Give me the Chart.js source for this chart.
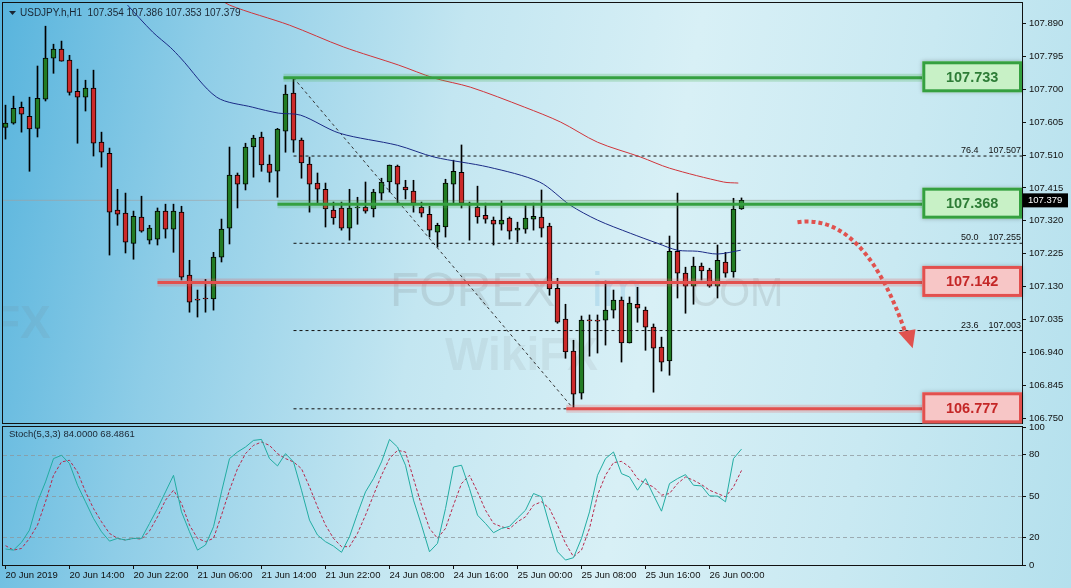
<!DOCTYPE html>
<html>
<head>
<meta charset="utf-8">
<script src="https://cdn.jsdelivr.net/npm/chart.js@4.4.0/dist/chart.umd.min.js"></script>
<style>
  html, body { margin: 0; padding: 0; }
  #wrap {
    position: relative; width: 1071px; height: 588px; overflow: hidden;
    background: linear-gradient(100deg, #58b4dd 0%, #8ecde7 18%, #c3e6f1 40%, #d8f0f6 60%, #c9e9f2 80%, #b4e0ed 100%);
  }
  canvas { position: absolute; left: 0; }
  #main { top: 0; }
  #stoch { top: 415px; }
</style>
</head>
<body>
<div id="wrap">
  <canvas id="main" width="1071" height="425"></canvas>
  <canvas id="stoch" width="1071" height="173"></canvas>
</div>
<script>
const FONT = "'Liberation Sans', Arial, sans-serif";
Chart.defaults.font.family = FONT;
Chart.defaults.font.size = 9.5;
Chart.defaults.color = '#111';

// USDJPY H1 candles, one per hour from 20 Jun 06:00
const opens = [
  107.590,107.602,107.648,107.622,107.587,107.671,107.790,107.816,107.784,107.694,
  107.677,107.703,107.547,107.515,107.351,107.342,107.255,107.331,107.264,107.267,
  107.348,107.296,107.345,107.163,107.094,107.097,107.094,107.215,107.299,107.452,
  107.426,107.533,107.562,107.484,107.463,107.579,107.689,107.553,107.484,107.429,
  107.411,107.351,107.357,107.299,107.357,107.359,107.354,107.400,107.432,107.478,
  107.417,107.406,107.359,107.339,107.287,107.302,107.426,107.460,107.368,107.359,
  107.336,107.322,107.310,107.328,107.293,107.296,107.325,107.331,107.305,107.125,
  107.036,106.944,106.822,107.033,107.033,107.033,107.062,107.091,106.967,107.079,
  107.062,107.013,106.955,106.915,107.232,107.169,107.131,107.189,107.178,107.131,
  107.201,107.172,107.354];
const highs = [
  107.654,107.680,107.663,107.677,107.767,107.882,107.830,107.839,107.798,107.758,
  107.726,107.755,107.576,107.530,107.411,107.400,107.348,107.391,107.307,107.357,
  107.368,107.368,107.362,107.206,107.120,107.151,107.229,107.325,107.533,107.458,
  107.544,107.567,107.576,107.510,107.587,107.712,107.733,107.559,107.504,107.458,
  107.429,107.374,107.374,107.411,107.388,107.432,107.411,107.443,107.481,107.481,
  107.437,107.437,107.374,107.362,107.313,107.440,107.495,107.539,107.374,107.420,
  107.371,107.331,107.377,107.331,107.316,107.365,107.371,107.409,107.313,107.154,
  107.079,106.975,107.045,107.048,107.048,107.146,107.120,107.100,107.100,107.128,
  107.071,107.022,106.984,107.276,107.400,107.186,107.215,107.198,107.183,107.250,
  107.229,107.385,107.386];
const lows = [
  107.556,107.599,107.576,107.463,107.562,107.666,107.746,107.781,107.683,107.544,
  107.637,107.507,107.475,107.221,107.307,107.227,107.209,107.287,107.253,107.250,
  107.270,107.229,107.149,107.056,107.042,107.056,107.062,107.201,107.253,107.357,
  107.409,107.446,107.463,107.432,107.388,107.518,107.518,107.443,107.345,107.371,
  107.302,107.310,107.293,107.264,107.310,107.342,107.331,107.380,107.403,107.371,
  107.383,107.345,107.331,107.273,107.244,107.273,107.371,107.357,107.264,107.313,
  107.313,107.250,107.293,107.267,107.258,107.284,107.293,107.273,107.105,107.024,
  106.923,106.777,106.805,106.929,106.938,106.961,107.039,106.912,106.967,107.027,
  106.946,106.825,106.886,106.874,107.097,107.053,107.079,107.149,107.128,107.097,
  107.157,107.157,107.353];
const closes = [
  107.602,107.645,107.628,107.585,107.674,107.790,107.816,107.781,107.691,107.677,
  107.703,107.544,107.518,107.345,107.339,107.258,107.333,107.290,107.299,107.348,
  107.296,107.348,107.157,107.085,107.091,107.094,107.215,107.296,107.452,107.426,
  107.533,107.559,107.481,107.460,107.585,107.686,107.553,107.487,107.426,107.411,
  107.354,107.328,107.299,107.357,107.359,107.348,107.403,107.432,107.481,107.426,
  107.409,107.371,107.342,107.293,107.307,107.429,107.463,107.371,107.365,107.331,
  107.325,107.310,107.322,107.290,107.299,107.328,107.333,107.299,107.123,107.027,
  106.941,106.819,107.033,107.031,107.030,107.062,107.091,106.967,107.082,107.068,
  107.013,106.952,106.912,107.232,107.169,107.131,107.189,107.175,107.131,107.206,
  107.169,107.354,107.379];

// Stoch(5,3,3)
const stochK = [
  11.6,10.8,16.4,25.3,45.8,60.2,77.1,79.5,73.5,57.8,
  45.8,33.7,24.1,17.3,19.3,18.1,19.3,19.3,30.1,41.0,
  53.0,65.0,38.5,24.1,10.8,14.5,27.7,53.0,77.1,81.9,
  85.5,90.3,91.0,77.1,71.8,80.7,74.7,54.2,32.5,21.7,
  16.9,13.7,9.2,20.5,37.3,53.0,62.6,74.7,91.0,85.5,
  72.3,47.0,28.9,9.6,15.7,40.9,71.0,72.3,55.4,36.1,
  30.1,23.4,26.5,28.0,34.0,39.7,51.8,49.4,28.9,9.6,
  3.6,5.3,19.3,38.5,65.0,77.1,81.9,66.2,63.8,54.2,
  62.6,50.6,39.0,59.0,62.6,65.5,57.8,57.3,50.1,49.9,
  45.8,77.1,84.0];
const stochD = [
  14.0,10.8,12.0,19.3,28.9,45.8,65.0,74.7,75.9,67.4,
  53.0,40.9,31.3,22.9,19.3,18.1,19.3,18.8,24.6,34.9,
  47.0,54.2,44.6,28.9,19.3,16.9,19.3,36.1,54.2,69.8,
  80.7,86.7,89.1,86.7,80.7,77.1,74.7,69.8,56.6,42.2,
  28.9,19.3,13.3,13.3,22.9,36.1,50.6,65.0,77.1,83.1,
  81.9,62.6,43.4,26.5,19.3,26.5,43.4,59.0,65.0,53.0,
  39.7,30.1,27.7,26.3,31.3,34.9,43.4,45.8,40.9,28.9,
  15.7,6.0,10.8,26.5,50.6,65.0,74.2,75.1,71.0,62.6,
  59.0,56.6,50.6,51.8,59.0,63.8,61.4,58.3,54.2,51.8,
  49.4,56.6,68.5];

// moving averages, read at a few candle positions
const blueMaX = [15.25,18.4,20.6,21.9,26.4,30.9,34.1,36.9,41.75,49,53.6,60.4,66.75,70.6,74,78.1,81.5,84,86.5,89,91.9];
const blueMaY = [107.943,107.865,107.821,107.790,107.677,107.648,107.631,107.625,107.573,107.538,107.504,107.475,107.432,107.365,107.322,107.284,107.255,107.235,107.232,107.224,107.235];
const redMaX = [26,28,35.5,42.25,49.1,53.6,58.1,64.9,69.4,74,79.4,83,89.75,91.6];
const redMaY = [107.975,107.943,107.885,107.822,107.770,107.732,107.706,107.648,107.605,107.547,107.504,107.472,107.432,107.429];

const priceTicks = [106.750,106.845,106.940,107.035,107.130,107.225,107.320,107.415,107.510,107.605,107.700,107.795,107.890];
const stochTicks = [0, 20, 50, 80, 100];
const stochLevels = [20, 50, 80];
const timeTickIdx = [0, 8, 16, 24, 32, 40, 48, 56, 64, 72, 80, 88];
const timeTickLabels = ['20 Jun 2019','20 Jun 14:00','20 Jun 22:00','21 Jun 06:00','21 Jun 14:00','21 Jun 22:00',
  '24 Jun 08:00','24 Jun 16:00','25 Jun 00:00','25 Jun 08:00','25 Jun 16:00','26 Jun 00:00'];

// support / resistance levels
const levelPrices = [107.733, 107.368, 107.142, 106.777];
const levelFrom = [34.75, 34, 19, 70.1];
const levelUp = [true, true, false, false];

// fibonacci from swing high (candle 36) to swing low (candle 71)
const fibPrices = [106.777, 107.003, 107.255, 107.507, 107.733];
const fibNames = ['0.0', '23.6', '50.0', '76.4', '100.0'];
const fibFrom = 36, fibTo = 71;

// dotted forecast arrow (bezier in candle/price units)
const arrowX = [99, 105, 109.4, 112.5];
const arrowY = [107.316, 107.336, 107.206, 106.996];
const arrowHeadX = [111.6, 113.4, 113.75];
const arrowHeadY = [106.998, 106.952, 107.007];

const X_MIN = -0.3125, X_MAX = 127.0625, BOX_FROM = 114.6;
const lastClose = closes[closes.length - 1];

const GREEN_LINE = '#35a040', RED_LINE = '#e2504e';

const idx = opens.map((_, i) => i);
const colors = idx.map(i => closes[i] >= opens[i] ? '#227c24' : '#cc2a2a');

// axis sizes are fixed so both panels share the same plot edges
function fixAxis(size, horizontal) {
  return s => {
    if (horizontal) s.height = size; else s.width = size;
    s.paddingTop = 0; s.paddingBottom = 0; s.paddingLeft = 0; s.paddingRight = 0;
  };
}

const datasets = [];
datasets.push({
  type: 'line', order: 9, data: [{ x: X_MIN, y: lastClose }, { x: X_MAX, y: lastClose }],
  borderColor: 'rgba(160,160,160,0.6)', borderWidth: 1, pointRadius: 0
});
datasets.push({
  type: 'bar', order: 8, grouped: false, barThickness: 1,
  data: idx.map(i => ({ x: i, y: [lows[i], highs[i]] })),
  backgroundColor: '#000', borderWidth: 0
});
datasets.push({
  type: 'bar', order: 7, grouped: false, barThickness: 5, minBarLength: 1,
  data: idx.map(i => ({ x: i, y: [opens[i], closes[i]] })),
  backgroundColor: colors, borderColor: '#000', borderWidth: 1, borderSkipped: false
});
fibPrices.forEach(p => datasets.push({
  type: 'line', order: 6, data: [{ x: fibFrom, y: p }, { x: X_MAX, y: p }],
  borderColor: '#111', borderWidth: 1, borderDash: [3, 3], pointRadius: 0
}));
datasets.push({
  type: 'line', order: 6, data: [{ x: fibFrom, y: fibPrices[4] }, { x: fibTo, y: fibPrices[0] }],
  borderColor: '#333', borderWidth: 1, borderDash: [3, 3], pointRadius: 0
});
datasets.push({
  type: 'line', order: 5, data: redMaX.map((x, k) => ({ x, y: redMaY[k] })),
  borderColor: '#d0343a', borderWidth: 1, pointRadius: 0, tension: 0.3
});
datasets.push({
  type: 'line', order: 5, data: blueMaX.map((x, k) => ({ x, y: blueMaY[k] })),
  borderColor: '#1b2b86', borderWidth: 1, pointRadius: 0, tension: 0.3
});
levelPrices.forEach((p, k) => {
  const pts = [{ x: levelFrom[k], y: p }, { x: BOX_FROM, y: p }];
  datasets.push({
    type: 'line', order: 2, data: pts, pointRadius: 0, borderWidth: 8,
    borderColor: levelUp[k] ? 'rgba(70,175,80,0.25)' : 'rgba(235,90,90,0.25)'
  });
  datasets.push({
    type: 'line', order: 1, data: pts, pointRadius: 0, borderWidth: 3,
    borderColor: levelUp[k] ? GREEN_LINE : RED_LINE
  });
});

function frame(chart) {
  const a = chart.chartArea, ctx = chart.ctx;
  ctx.save();
  ctx.strokeStyle = '#111';
  ctx.lineWidth = 1;
  ctx.strokeRect(a.left - 0.5, a.top - 0.5, a.right - a.left + 1, a.bottom - a.top + 1);
  ctx.restore();
}

const mainDecor = {
  id: 'mainDecor',
  beforeDatasetsDraw(chart) {
    const ctx = chart.ctx, a = chart.chartArea;
    ctx.save();
    ctx.beginPath();
    ctx.rect(a.left, a.top, a.right - a.left, a.bottom - a.top);
    ctx.clip();
    ctx.fillStyle = 'rgba(110,110,110,0.17)';
    ctx.font = `48px ${FONT}`;
    ctx.fillText('FOREX', 390, 306);
    ctx.fillStyle = 'rgba(90,170,215,0.22)';
    ctx.fillText('im', 592, 306);
    ctx.fillStyle = 'rgba(110,110,110,0.17)';
    ctx.font = `40px ${FONT}`;
    ctx.fillText('COM', 690, 306);
    ctx.font = `bold 46px ${FONT}`;
    ctx.fillStyle = 'rgba(120,120,120,0.1)';
    ctx.fillText('WikiFX', 445, 370);
    ctx.fillText('FX', -8, 338);
    ctx.restore();
  },
  afterDraw(chart) {
    const ctx = chart.ctx, a = chart.chartArea;
    const xs = chart.scales.x, ys = chart.scales.y;
    frame(chart);
    ctx.save();
    // fib labels
    ctx.font = `9px ${FONT}`;
    ctx.fillStyle = '#111';
    ctx.textAlign = 'right';
    ctx.textBaseline = 'bottom';
    for (let k = 1; k <= 3; k++) {
      ctx.fillText(fibNames[k] + '    ' + fibPrices[k].toFixed(3), a.right - 1, ys.getPixelForValue(fibPrices[k]) - 1);
    }
    // level boxes
    levelPrices.forEach((p, k) => {
      const x0 = xs.getPixelForValue(BOX_FROM), x1 = a.right;
      const yc = ys.getPixelForValue(p) - 1, h = 31;
      const up = levelUp[k];
      ctx.shadowColor = 'rgba(0,0,0,0.25)';
      ctx.shadowBlur = 4;
      ctx.fillStyle = up ? '#c8f1c6' : '#f7c6c6';
      ctx.fillRect(x0, yc - h / 2, x1 - x0, h);
      ctx.shadowBlur = 0;
      ctx.lineWidth = 3;
      ctx.strokeStyle = up ? GREEN_LINE : RED_LINE;
      ctx.strokeRect(x0 + 1.5, yc - h / 2 + 1.5, x1 - x0 - 3, h - 3);
      ctx.fillStyle = up ? '#2d7c36' : '#c42626';
      ctx.font = `bold 14.5px ${FONT}`;
      ctx.textAlign = 'center';
      ctx.textBaseline = 'middle';
      ctx.fillText(p.toFixed(3), (x0 + x1) / 2, yc + 1);
    });
    // dotted arrow
    const px = arrowX.map(v => xs.getPixelForValue(v));
    const py = arrowY.map(v => ys.getPixelForValue(v));
    ctx.strokeStyle = '#e0524f';
    ctx.lineWidth = 4;
    ctx.setLineDash([4, 3]);
    ctx.beginPath();
    ctx.moveTo(px[0], py[0]);
    ctx.bezierCurveTo(px[1], py[1], px[2], py[2], px[3], py[3]);
    ctx.stroke();
    ctx.setLineDash([]);
    ctx.fillStyle = '#e0524f';
    ctx.beginPath();
    arrowHeadX.forEach((v, k) => {
      const x = xs.getPixelForValue(v), y = ys.getPixelForValue(arrowHeadY[k]);
      if (k === 0) ctx.moveTo(x, y); else ctx.lineTo(x, y);
    });
    ctx.closePath();
    ctx.fill();
    // title
    ctx.fillStyle = '#1a2633';
    ctx.beginPath();
    ctx.moveTo(9, 11); ctx.lineTo(16, 11); ctx.lineTo(12.5, 15); ctx.closePath();
    ctx.fill();
    ctx.font = `10px ${FONT}`;
    ctx.textAlign = 'left';
    ctx.textBaseline = 'middle';
    ctx.fillText('USDJPY.h,H1  ' + [opens[92], highs[92], lows[92], closes[92]].map(v => v.toFixed(3)).join(' '), 20, 13);
    // current price tag
    const yp = ys.getPixelForValue(lastClose);
    ctx.font = `9.5px ${FONT}`;
    ctx.fillStyle = '#000';
    ctx.fillRect(a.right + 1, yp - 7, 45, 14);
    ctx.fillStyle = '#fff';
    ctx.fillText(lastClose.toFixed(3), a.right + 6, yp);
    ctx.restore();
  }
};

new Chart(document.getElementById('main'), {
  type: 'bar',
  data: { datasets },
  options: {
    responsive: false,
    animation: false,
    events: [],
    layout: { padding: { left: 3, top: 3, right: 0, bottom: 2 } },
    plugins: { legend: { display: false }, tooltip: { enabled: false } },
    scales: {
      x: { type: 'linear', min: X_MIN, max: X_MAX, offset: false, display: false },
      y: {
        position: 'right', min: 106.736, max: 107.949,
        afterBuildTicks: s => { s.ticks = priceTicks.map(v => ({ value: v })); },
        afterFit: fixAxis(49, false),
        ticks: { padding: 3, color: '#111', callback: v => Number(v).toFixed(3) },
        grid: { drawOnChartArea: false, drawTicks: true, tickLength: 4, color: '#111' },
        border: { display: false }
      }
    }
  },
  plugins: [mainDecor]
});

const stochDecor = {
  id: 'stochDecor',
  beforeDatasetsDraw(chart) {
    const ctx = chart.ctx, a = chart.chartArea, ys = chart.scales.y;
    ctx.save();
    ctx.strokeStyle = 'rgba(140,150,155,0.75)';
    ctx.lineWidth = 1;
    ctx.setLineDash([4, 3]);
    stochLevels.forEach(v => {
      const y = Math.round(ys.getPixelForValue(v)) + 0.5;
      ctx.beginPath();
      ctx.moveTo(a.left, y);
      ctx.lineTo(a.right, y);
      ctx.stroke();
    });
    ctx.restore();
  },
  afterDraw(chart) {
    const ctx = chart.ctx, a = chart.chartArea;
    frame(chart);
    ctx.save();
    ctx.fillStyle = '#1a2633';
    ctx.font = `9.5px ${FONT}`;
    ctx.textBaseline = 'middle';
    ctx.fillText('Stoch(5,3,3) ' + stochK[92].toFixed(4) + ' ' + '68.4861', 9, a.top + 7);
    ctx.restore();
  }
};

new Chart(document.getElementById('stoch'), {
  type: 'line',
  data: {
    datasets: [
      {
        data: idx.map(i => ({ x: i, y: stochK[i] })),
        borderColor: '#22aca2', borderWidth: 1, pointRadius: 0
      },
      {
        data: idx.map(i => ({ x: i, y: stochD[i] })),
        borderColor: '#b8284c', borderWidth: 1, borderDash: [3, 2], pointRadius: 0
      }
    ]
  },
  options: {
    responsive: false,
    animation: false,
    events: [],
    layout: { padding: { left: 3, top: 12, right: 0, bottom: 0 } },
    plugins: { legend: { display: false }, tooltip: { enabled: false } },
    scales: {
      x: {
        type: 'linear', min: X_MIN, max: X_MAX, offset: false,
        afterBuildTicks: s => { s.ticks = timeTickIdx.map(v => ({ value: v })); },
        afterFit: fixAxis(23, true),
        ticks: { align: 'start', autoSkip: false, maxRotation: 0, minRotation: 0, padding: 1, color: '#111',
          callback: (v, i) => timeTickLabels[i] },
        grid: { drawOnChartArea: false, drawTicks: true, tickLength: 4, color: '#111' },
        border: { display: false }
      },
      y: {
        position: 'right', min: 0, max: 100,
        afterBuildTicks: s => { s.ticks = stochTicks.map(v => ({ value: v })); },
        afterFit: fixAxis(49, false),
        ticks: { padding: 3, color: '#111' },
        grid: { drawOnChartArea: false, drawTicks: true, tickLength: 4, color: '#111' },
        border: { display: false }
      }
    }
  },
  plugins: [stochDecor]
});
</script>
</body>
</html>
